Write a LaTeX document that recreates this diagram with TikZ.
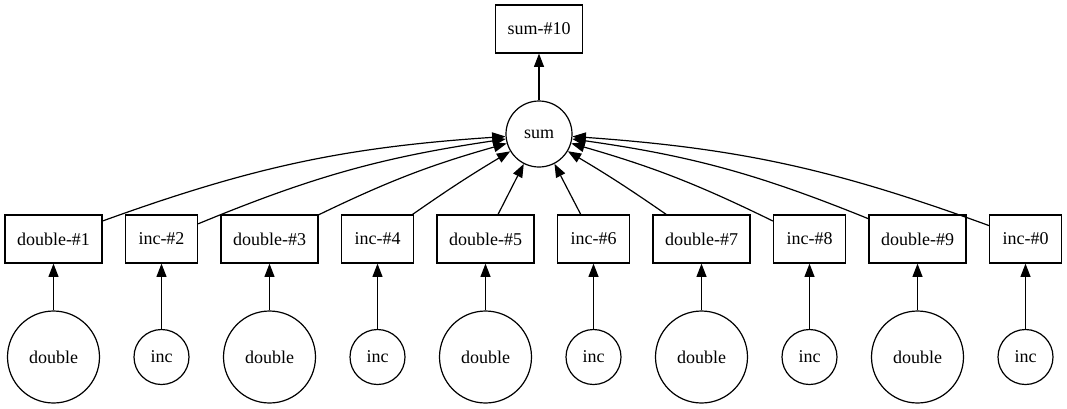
\documentclass[tikz,border=0pt]{standalone}
\usepackage{fontspec}
\setmainfont{Liberation Serif}
\usetikzlibrary{arrows.meta}

\begin{document}
\begin{tikzpicture}[x=0.75pt, y=-0.75pt,
  every node/.style={font=\fontsize{13.5}{16}\selectfont},
  task/.style={draw, rectangle, line width=0.9pt, minimum width=54pt, minimum height=36pt, inner xsep=9pt},
  fn/.style={draw, circle, line width=0.9pt, inner sep=0pt},
  dep/.style={-{Triangle[length=10pt,width=7.5pt]}, line width=0.9pt}]

%\draw[help lines] (0,0) grid (1067,408);
\useasboundingbox (0,0) rectangle (1067,408);

\node[task] (sumten) at (539,29) {sum-\#10};
\node[fn, minimum size=49.5pt] (sum) at (539,134) {sum};
\draw[dep] (sum) -- (sumten);

\node[task] (d1) at (53.5,239) {double-\#1};
\node[task] (i2) at (161.5,239) {inc-\#2};
\node[task] (d3) at (269.5,239) {double-\#3};
\node[task] (i4) at (377.5,239) {inc-\#4};
\node[task] (d5) at (485.5,239) {double-\#5};
\node[task] (i6) at (593.5,239) {inc-\#6};
\node[task] (d7) at (701.5,239) {double-\#7};
\node[task] (i8) at (809.5,239) {inc-\#8};
\node[task] (d9) at (917.5,239) {double-\#9};
\node[task] (i0) at (1025.5,239) {inc-\#0};

\node[fn, minimum size=69pt] (c1) at (53.5,357) {double};
\node[fn, minimum size=41.25pt] (c2) at (161.5,357) {inc};
\node[fn, minimum size=69pt] (c3) at (269.5,357) {double};
\node[fn, minimum size=41.25pt] (c4) at (377.5,357) {inc};
\node[fn, minimum size=69pt] (c5) at (485.5,357) {double};
\node[fn, minimum size=41.25pt] (c6) at (593.5,357) {inc};
\node[fn, minimum size=69pt] (c7) at (701.5,357) {double};
\node[fn, minimum size=41.25pt] (c8) at (809.5,357) {inc};
\node[fn, minimum size=69pt] (c9) at (917.5,357) {double};
\node[fn, minimum size=41.25pt] (c0) at (1025.5,357) {inc};

\draw[dep] (c1) -- (d1);
\draw[dep] (c2) -- (i2);
\draw[dep] (c3) -- (d3);
\draw[dep] (c4) -- (i4);
\draw[dep] (c5) -- (d5);
\draw[dep] (c6) -- (i6);
\draw[dep] (c7) -- (d7);
\draw[dep] (c8) -- (i8);
\draw[dep] (c9) -- (d9);
\draw[dep] (c0) -- (i0);

\draw[dep] (d1) to[bend left=8] (sum);
\draw[dep] (i2) to[bend left=7] (sum);
\draw[dep] (d3) to[bend left=5] (sum);
\draw[dep] (i4) to[bend left=2] (sum);
\draw[dep] (d5) -- (sum);
\draw[dep] (i6) -- (sum);
\draw[dep] (d7) to[bend right=2] (sum);
\draw[dep] (i8) to[bend right=5] (sum);
\draw[dep] (d9) to[bend right=7] (sum);
\draw[dep] (i0) to[bend right=8] (sum);

\end{tikzpicture}
\end{document}
